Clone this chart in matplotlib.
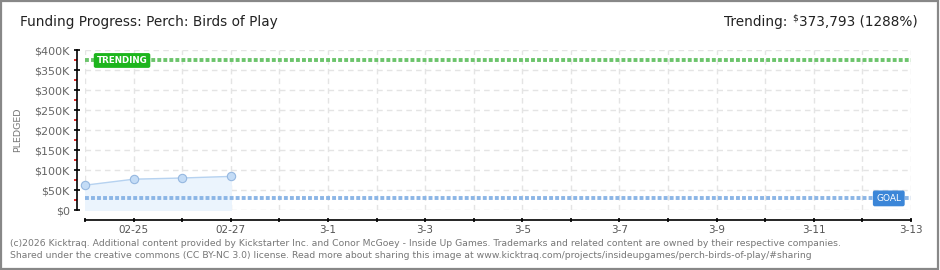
import matplotlib
matplotlib.use("Agg")
import matplotlib.pyplot as plt
from matplotlib.patches import Rectangle
import numpy as np

# ---- data ----
days = ["02-24", "02-25", "02-26", "02-27", "02-28", "3-1", "3-2", "3-3", "3-4",
        "3-5", "3-6", "3-7", "3-8", "3-9", "3-10", "3-11", "3-12", "3-13"]
pledged_days = [0, 1, 2, 3]
pledged = [62000, 77000, 80000, 84000]
goal = 29021
trending = 373793
trend_pct = 1288
y_ticks = [0, 50000, 100000, 150000, 200000, 250000, 300000, 350000, 400000]
y_labels = ["$0", "$50K", "$100K", "$150K", "$200K", "$250K", "$300K", "$350K", "$400K"]

W, H = 940, 270
PX = 72 / 100  # points per pixel
fig = plt.figure(figsize=(W / 100, H / 100), dpi=100)
plt.rcParams['font.family'] = ['DejaVu Sans']

ax = fig.add_axes([85 / W, 60 / H, (911 - 85) / W, 160 / H])
x = np.arange(len(days))
ax.set_xlim(0, len(days) - 1)
ax.set_ylim(0, 400000)

# grid
for yv in y_ticks:
    ax.axhline(yv, color='#e4e4e4', lw=1, dashes=(4, 3), zorder=0)
for xv in x:
    ax.axvline(xv, color='#e4e4e4', lw=1, dashes=(4, 3), zorder=0)

# data
ax.fill_between(pledged_days, pledged, 0, color='#ebf4fd', zorder=1)
ax.plot(pledged_days, pledged, color='#b6d2f0', lw=1, zorder=3)
ax.plot(pledged_days, pledged, 'o', ms=6, mfc='#c4dcf6', mec='#96b8e0', mew=0.8,
        zorder=4, clip_on=False)

# trending & goal lines
ax.plot([0, len(days) - 1], [trending, trending], color='#6cc46c', lw=2.8,
        dashes=(1.0, 0.55), solid_capstyle='butt', dash_capstyle='butt', zorder=2)
ax.plot([0, len(days) - 1], [goal, goal], color='#8cb6e6', lw=2.8,
        dashes=(1.0, 0.55), solid_capstyle='butt', dash_capstyle='butt', zorder=2)

# label boxes
ax.text(0.24, trending, "TRENDING", color='white', fontsize=6.3, fontweight='bold',
        va='center', ha='left', zorder=6,
        bbox=dict(boxstyle='round,pad=0.25,rounding_size=0.15', fc='#1db51d', ec='#1db51d'))
ax.text(len(days) - 1.2, goal, "GOAL", color='white', fontsize=6.5,
        va='center', ha='right', zorder=6,
        bbox=dict(boxstyle='round,pad=0.3,rounding_size=0.15', fc='#3b86d8', ec='#3b86d8'))

# spines
for s in ['top', 'right']:
    ax.spines[s].set_visible(False)
ax.spines['left'].set_position(('outward', 8 * PX))
ax.spines['bottom'].set_position(('outward', 10 * PX))
ax.spines['left'].set_linewidth(1.2)
ax.spines['bottom'].set_linewidth(1.2)

ax.set_yticks(y_ticks)
ax.set_yticklabels([l.replace("$", r"\$") for l in y_labels])
ax.set_yticks(np.arange(25000, 400000, 50000), minor=True)
ax.tick_params(axis='y', which='major', direction='inout', length=6 * PX, width=1.2,
               labelsize=8, labelcolor='#666666', pad=3)
ax.tick_params(axis='y', which='minor', direction='out', length=3 * PX, width=1.2,
               color='#dd0000')

ax.set_xticks(x)
ax.set_xticklabels([d if i % 2 == 1 else "" for i, d in enumerate(days)])
ax.tick_params(axis='x', which='major', direction='inout', length=5 * PX, width=1.2,
               labelsize=7.5, labelcolor='#555555', pad=2)

ax.set_ylabel("PLEDGED", fontsize=6.8, color='#777777', labelpad=9)

# titles
fig.text(20 / W, 1 - 22 / H, "Funding Progress: Perch: Birds of Play", fontsize=9.8,
         color='#222222', va='center', ha='left')
t3 = fig.text(918 / W, 1 - 22 / H, f"373,793 ({trend_pct}%)", fontsize=9.8,
              color='#222222', va='center', ha='right')
fig.canvas.draw()
r = fig.canvas.get_renderer()
bb = t3.get_window_extent(r)
t2 = fig.text((bb.x0 - 1) / W, 1 - 18 / H, r"\$", fontsize=6.5, color='#222222',
              va='center', ha='right')
bb2 = t2.get_window_extent(r)
fig.text((bb2.x0 - 5) / W, 1 - 22 / H, "Trending:", fontsize=9.8, color='#222222',
         va='center', ha='right')

# footer
fig.text(10 / W, 1 - 243 / H,
         "(c)2026 Kicktraq. Additional content provided by Kickstarter Inc. and Conor McGoey - Inside Up Games. Trademarks and related content are owned by their respective companies.",
         fontsize=6.7, color='#777777', va='center', ha='left')
fig.text(10 / W, 1 - 256 / H,
         "Shared under the creative commons (CC BY-NC 3.0) license. Read more about sharing this image at www.kicktraq.com/projects/insideupgames/perch-birds-of-play/#sharing",
         fontsize=6.7, color='#777777', va='center', ha='left')

# border
fig.patches.append(Rectangle((0.001, 0.002), 0.997, 0.995, transform=fig.transFigure,
                             fill=False, ec='#888888', lw=1.6))

fig.savefig("out.png", dpi=100)
